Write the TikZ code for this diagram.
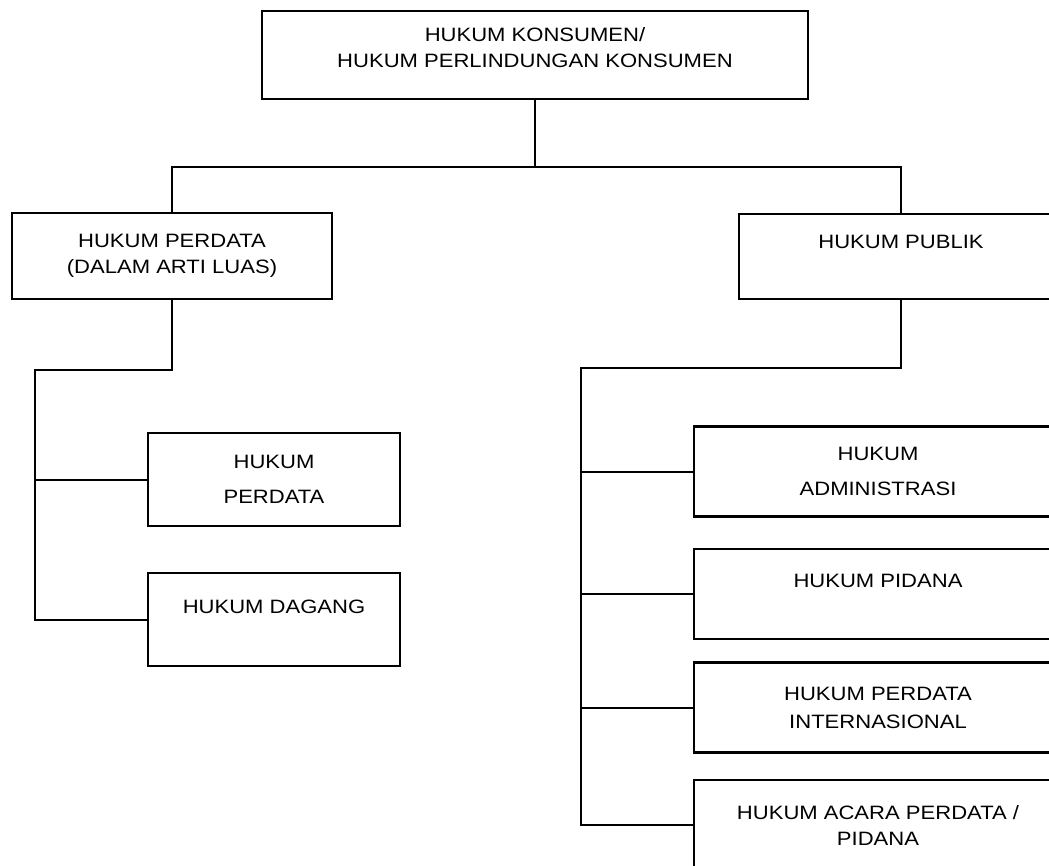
\documentclass[tikz,border=0pt]{standalone}
\usepackage{fontspec}
\setmainfont{Liberation Sans}[FakeStretch=1.14]
\usepackage{tikz}
\tikzstyle{kotak}	=[rectangle, draw=black, line width=1.6pt, align=center, inner sep=0pt, font=\fontsize{14.5}{19.5}\selectfont]
\tikzstyle{akar}	=[kotak, minimum width=409.5pt, minimum height=66pt]
\tikzstyle{cabangL}	=[kotak, minimum width=240pt, minimum height=64.5pt]
\tikzstyle{cabangR}	=[kotak, minimum width=243pt, minimum height=63.75pt]
\tikzstyle{anakL}	=[kotak, minimum width=189pt, minimum height=69.75pt]
\tikzstyle{anakR}	=[kotak, minimum width=276pt, minimum height=67.5pt]
\tikzstyle{garis}	=[draw, line width=1.5pt, -]

\begin{document}
\begin{tikzpicture}[x=0.75pt, y=-0.75pt, auto]
   		
   		\useasboundingbox (0,0) rectangle (1049,865);
   		\clip (0,0) rectangle (1049,865);
   		
   		%%%% Root
   		\node[akar] (hk) at (535,55) {HUKUM KONSUMEN/\\HUKUM PERLINDUNGAN KONSUMEN\\[-7.5pt]\mbox{}};
   		
   		%%%% Cabang
   		\node[cabangL] (hpd) at (172,256) {HUKUM PERDATA\\(DALAM ARTI LUAS)};
   		\node[cabangR] (hpb) at (901,256.5) {HUKUM PUBLIK\\[3pt]\mbox{}};
   		
   		%%%% Hukum perdata (kiri)
   		\foreach \pos/\name/\teks in {{(274,479.5)/pdt/{HUKUM\\[6.5pt]PERDATA}}, {(274,619.5)/dag/{HUKUM DAGANG\\\mbox{}}}}
   		\node[anakL] (\name) at \pos {\teks};
   		
   		%%%% Hukum publik (kanan)
   		\foreach \pos/\name/\teks in {{(878,471.5)/adm/{HUKUM\\[6.5pt]ADMINISTRASI}}, {(878,594)/pid/{HUKUM PIDANA\\\mbox{}}}, {(878,707.5)/hpi/{HUKUM PERDATA\\[1.5pt]INTERNASIONAL}}, {(878,825)/aca/{HUKUM ACARA PERDATA /\\PIDANA}}}
   		\node[anakR] (\name) at \pos {\teks};
   		
   		%%%% Titik cabang
   		\coordinate (s0) at (535,167);
   		\coordinate (s1) at (35,370);
   		\coordinate (s2) at (581,368);
   		
   		%%%% Garis
   		\path[garis] (hk) -- (s0);
   		\path[garis] (hpd.north) |- (s0) -| (hpb.north);
   		\path[garis] (hpd.south) |- (s1) |- (dag.west);
   		\path[garis] (s1 |- pdt.west) -- (pdt.west);
   		\path[garis] (hpb.south) |- (s2) |- (aca.west);
   		\foreach \dest in {adm,pid,hpi}	\path[garis] (s2 |- \dest.west) -- (\dest.west);
   		\end{tikzpicture}
\end{document}
